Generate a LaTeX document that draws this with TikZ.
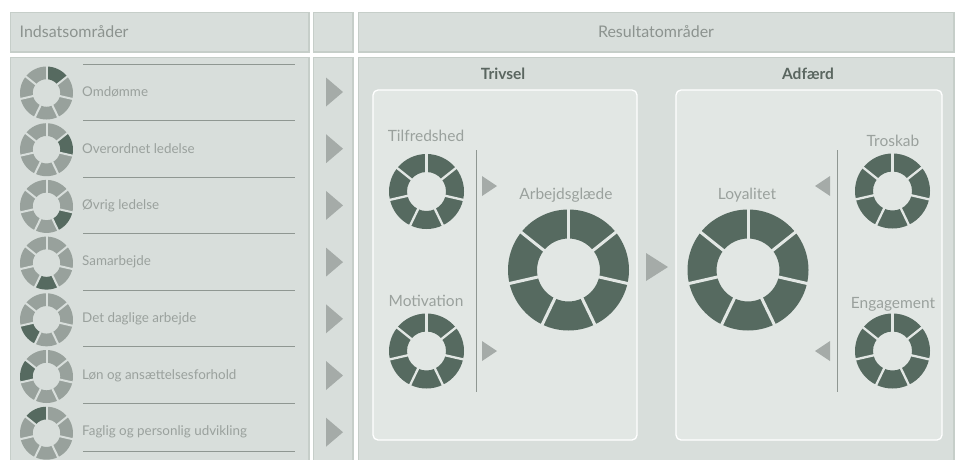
\documentclass[tikz,border=0pt]{standalone}
\usepackage{fontspec}
\setmainfont{Lato}
\definecolor{panel}{HTML}{D8DEDB}
\definecolor{panelline}{HTML}{C6CEC9}
\definecolor{innerbg}{HTML}{E2E7E4}
\definecolor{darkseg}{HTML}{566A60}
\definecolor{lightseg}{HTML}{98A19C}
\definecolor{arrowc}{HTML}{A5ABA8}
\definecolor{labeltxt}{HTML}{9AA19D}
\definecolor{hdrtxt}{HTML}{8C938F}
\definecolor{boldtxt}{HTML}{5A6660}
\definecolor{rulec}{HTML}{8F9792}
% #1 name, #2 x, #3 y, #4 R, #5 gap width, #6 gap colour, #7 base colour, #8 highlighted segment
\newcommand{\myring}[8]{%
  \coordinate (#1) at (#2,#3);
  \begin{scope}[shift={(#2,#3)}]
    \foreach \k in {0,...,6}{%
      \pgfmathsetmacro\ta{-90+\k*360/7}%
      \pgfmathsetmacro\tb{-90+(\k+1)*360/7}%
      \ifnum\k=#8\relax\def\segc{darkseg}\else\def\segc{#7}\fi
      \fill[\segc] (\ta:#4) arc[start angle=\ta,end angle=\tb,radius=#4]
        -- (\tb:{0.52*#4}) arc[start angle=\tb,end angle=\ta,radius={0.52*#4}] -- cycle;
    }
    \foreach \k in {0,...,6}{%
      \pgfmathsetmacro\ta{-90+\k*360/7}%
      \draw[#6,line width=#5] (\ta:{0.45*#4}) -- (\ta:{#4+1.5});
    }
  \end{scope}}
% right-pointing triangle: #1 x, #2 y, #3 width, #4 height
\newcommand{\rtri}[4]{\fill[arrowc] ({#1-#3/2},{#2-#4/2}) -- ({#1+#3/2},#2) -- ({#1-#3/2},{#2+#4/2}) -- cycle;}
\newcommand{\ltri}[4]{\fill[arrowc] ({#1+#3/2},{#2-#4/2}) -- ({#1-#3/2},#2) -- ({#1+#3/2},{#2+#4/2}) -- cycle;}
\begin{document}
\begin{tikzpicture}[x=1pt,y=-1pt,
  panelbox/.style={fill=panel,draw=panelline,line width=1.2pt},
  innerbox/.style={fill=innerbg,draw=white,line width=1.3pt,rounded corners=5pt},
  hdr/.style={font=\fontsize{16}{18}\selectfont,text=hdrtxt,inner sep=0pt},
  rowlabel/.style={font=\fontsize{13.4}{15}\selectfont,text=labeltxt,inner sep=0pt,anchor=west},
  ringlabel/.style={font=\fontsize{15.5}{18}\selectfont,text=labeltxt,inner sep=0pt},
  grouplabel/.style={font=\fontsize{15.5}{18}\selectfont\bfseries,text=boldtxt,inner sep=0pt},
  sep/.style={draw=rulec,line width=0.8pt}]
\useasboundingbox (0,0) rectangle (960,459);
\fill[white] (0,0) rectangle (960,459);
% header row
\draw[panelbox] (10.5,12.5) rectangle (309,52);
\draw[panelbox] (313.5,12.5) rectangle (353,52);
\draw[panelbox] (358.5,12.5) rectangle (954,52);
% body row
\draw[panelbox] (10.5,57.5) rectangle (309,462);
\draw[panelbox] (313.5,57.5) rectangle (353,462);
\draw[panelbox] (358.5,57.5) rectangle (954,462);
\node[hdr,anchor=west] (insats) at (19.5,32) {Indsatsområder};
\node[hdr] (result) at (656,32) {Resultatområder};
% left rows
\foreach \y in {64,120.5,177,233.5,290,346.5,403,451}{\draw[sep] (83,\y) -- (295,\y);}
\foreach \lab [count=\i from 0] in {Omdømme,Overordnet ledelse,Øvrig ledelse,Samarbejde,Det daglige arbejde,Løn og ansættelsesforhold,Faglig og personlig udvikling}{
  \pgfmathsetmacro\yy{92+56.7*\i}
  \myring{lr\i}{46.5}{\yy+1}{26.5}{2pt}{panel}{lightseg}{\i}
  \node[rowlabel] (ll\i) at (82,\yy) {\lab};
  \rtri{334.5}{\yy}{17}{29}
}
% group labels and boxes
\node[grouplabel] (trivsel) at (503,74) {Trivsel};
\node[grouplabel] (adfaerd) at (808,74) {Adfærd};
\draw[innerbox] (373,90) rectangle (637,440);
\draw[innerbox] (676,90) rectangle (942,440);
% Trivsel
\node[ringlabel] (tilfl) at (426,136) {Tilfredshed};
\myring{tilf}{426.5}{191.5}{37.5}{2.3pt}{innerbg}{darkseg}{-1}
\node[ringlabel] (motivl) at (426,301) {Motivation};
\myring{motiv}{426.5}{351}{37.5}{2.3pt}{innerbg}{darkseg}{-1}
\draw[sep] (476,150) -- (476,392);
\rtri{489.5}{186}{15}{20}
\rtri{489.5}{351}{15}{20}
\node[ringlabel] (arbl) at (566,195) {Arbejdsglæde};
\myring{arb}{568.5}{270}{60.5}{3pt}{innerbg}{darkseg}{-1}
% central arrow
\rtri{657}{267}{22}{28}
% Adfaerd
\node[ringlabel] (loyl) at (747,195) {Loyalitet};
\myring{loy}{748}{270}{60.5}{3pt}{innerbg}{darkseg}{-1}
\draw[sep] (837,150) -- (837,392);
\ltri{822.5}{186}{15}{20}
\ltri{822.5}{351}{15}{20}
\node[ringlabel] (trosl) at (893,141) {Troskab};
\myring{tros}{892.5}{191}{37.5}{2.3pt}{innerbg}{darkseg}{-1}
\node[ringlabel] (engl) at (893,304) {Engagement};
\myring{eng}{892.5}{351}{37.5}{2.3pt}{innerbg}{darkseg}{-1}
\end{tikzpicture}
\end{document}
